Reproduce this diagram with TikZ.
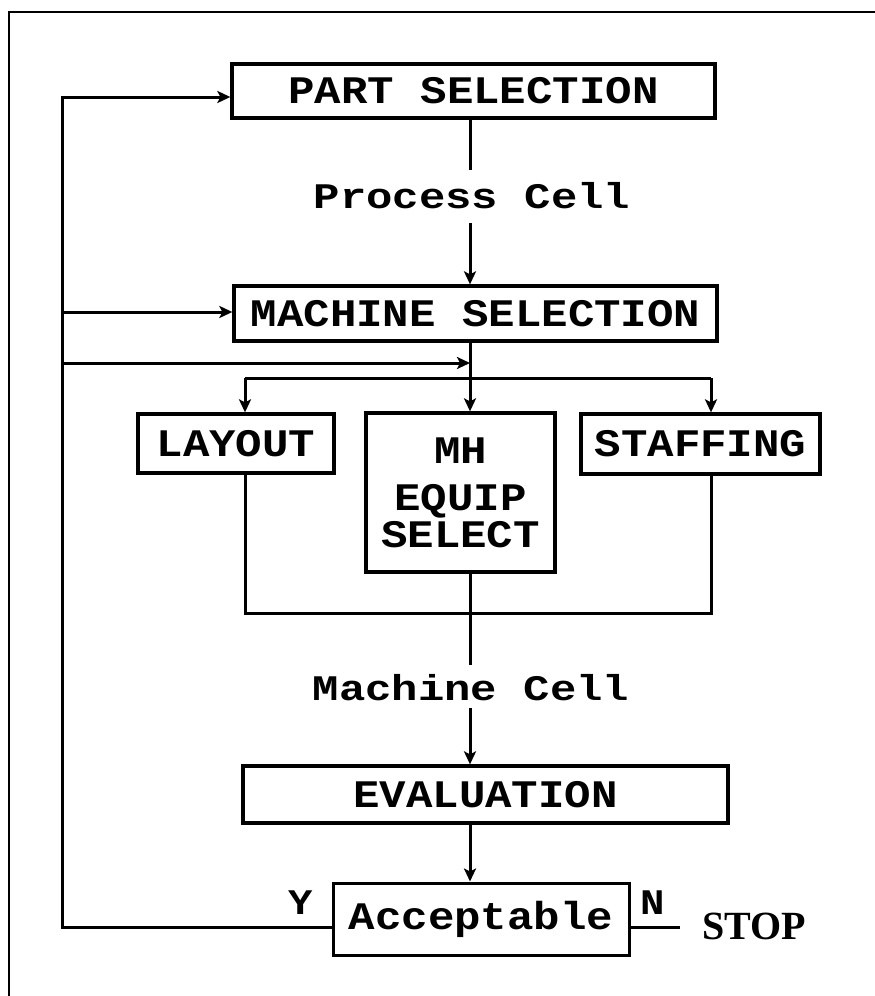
\documentclass[tikz,border=0pt]{standalone}
\usepackage{fontspec}
\newfontfamily\boxfont{Liberation Mono}[FakeStretch=1.13]
\newfontfamily\lblfont{Liberation Mono}[FakeStretch=1.22]
\newfontfamily\sfont{Liberation Serif}
\usetikzlibrary{arrows.meta}
\begin{document}
\begin{tikzpicture}[x=1pt,y=-1pt,
  box/.style={draw, line width=3.3pt, inner sep=0pt, align=center,
    font=\boxfont\bfseries\fontsize{39}{37}\selectfont},
  lbl/.style={inner sep=0pt, text depth=0pt,
    font=\lblfont\bfseries\fontsize{36}{36}\selectfont},
  yn/.style={inner sep=0pt, text depth=0pt, anchor=south, text height=24pt,
    font=\boxfont\bfseries\fontsize{36}{36}\selectfont},
  conn/.style={line width=3pt},
  arr/.style={conn, -{Stealth[length=13pt,width=12pt,inset=3pt]}},
  frame/.style={line width=2.6pt}]
\useasboundingbox (0,0) rectangle (875,996);
% frame
\coordinate (f1) at (9,996);
\coordinate (f2) at (9,12);
\coordinate (f3) at (875,12);
\draw[frame] (f1) -- (f2) -- (f3);
% boxes
\node[box, minimum width=483pt, minimum height=54pt] (part) at (473.5,91) {PART SELECTION};
\node[box, minimum width=483pt, minimum height=55pt] (machine) at (475.5,313.5) {MACHINE SELECTION};
\node[box, minimum width=196pt, minimum height=59pt] (layout) at (236,443.5) {LAYOUT};
\node[box, minimum width=189pt, minimum height=159pt] (mh) at (460.5,492.5) {MH\\[10pt]EQUIP\\SELECT};
\node[box, minimum width=239pt, minimum height=60pt] (staff) at (700.5,444) {STAFFING};
\node[box, minimum width=485pt, minimum height=57pt] (eval) at (485.5,794.5) {EVALUATION};
\node[box, minimum width=296pt, minimum height=72pt, line width=3pt] (acc) at (481,919) {Acceptable};
% labels
\node[lbl, text height=23pt, inner ysep=15pt] (pcell) at (472,196.5) {Process Cell};
\node[lbl, text height=27pt, inner ysep=8pt] (mcell) at (471,686.5) {Machine Cell};
\node[yn] (ylab) at (301,915) {Y};
\node[yn] (nlab) at (653,915) {N};
% coordinates
\coordinate (cx) at (470,0);
\coordinate (L1) at (62,97);
\coordinate (L2) at (62,312);
\coordinate (L3) at (62,363);
\coordinate (L4) at (62,927);
\coordinate (c3) at (470,363);
\coordinate (bl) at (245,378);
\coordinate (br) at (711,378);
\coordinate (jl) at (245,613);
\coordinate (jr) at (711,613);
\node[inner sep=0pt, inner xsep=22pt, anchor=west, text height=24pt, text depth=0pt,
  font=\sfont\bfseries\fontsize{40}{40}\selectfont] (stop) at (680,927) {STOP};
% connectors
\draw[arr] (acc.west |- L4) -- (L4) -- (L1) -- (part.west |- L1);
\draw[arr] (L2) -- (machine.west |- L2);
\draw[arr] (L3) -- (c3);
\draw[conn] (part.south -| cx) -- (pcell.north -| cx);
\draw[arr] (pcell.south -| cx) -- (machine.north -| cx);
\draw[arr] (machine.south -| cx) -- (mh.north -| cx);
\draw[conn] (bl) -- (br);
\draw[arr] (bl) -- (layout.north -| bl);
\draw[arr] (br) -- (staff.north -| br);
\draw[conn] (layout.south -| jl) -- (jl) -- (jr) -- (staff.south -| jr);
\draw[conn] (mh.south -| cx) -- (mcell.north -| cx);
\draw[arr] (mcell.south -| cx) -- (eval.north -| cx);
\draw[arr] (eval.south -| cx) -- (acc.north -| cx);
\draw[conn] (acc.east |- L4) -- (stop.west);
\end{tikzpicture}
\end{document}
